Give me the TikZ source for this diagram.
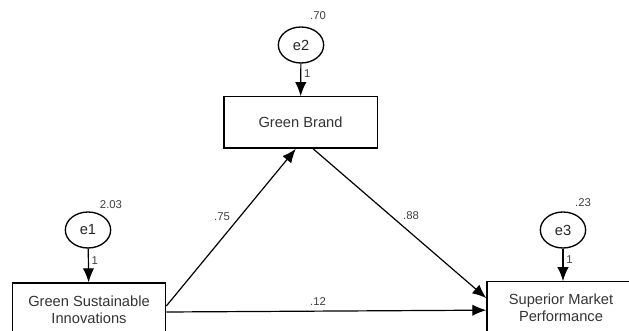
\documentclass[tikz,border=0pt]{standalone}
\usepackage{fontspec}
\setmainfont{Liberation Sans}
\usetikzlibrary{arrows.meta,shapes.geometric}

\begin{document}
\begin{tikzpicture}[
    x=0.75pt, y=-0.75pt,
    var/.style={rectangle, draw=black, line width=1pt, minimum width=115pt, minimum height=38.5pt, align=center, text=black!80, font=\fontsize{11}{12.5}\selectfont},
    err/.style={ellipse, draw=black, line width=1pt, minimum width=34pt, minimum height=27pt, inner sep=0pt, text=black!85, font=\fontsize{11}{12}\selectfont},
    est/.style={font=\fontsize{8.5}{9}\selectfont, text=black!75, inner sep=1pt},
    regpath/.style={-{Latex[length=10.5pt,width=8.5pt]}, line width=0.9pt}
]

% Frame
\useasboundingbox (0,0) rectangle (629,331);
\clip (0,0) rectangle (629,331);

% Observed variables
\node[var] (gb) at (300.5,122.5) {Green Brand};
\node[var, minimum height=40.5pt] (gsi) at (89,310) {Green Sustainable\\Innovations};
\node[var, minimum width=111pt] (smp) at (561,307.5) {Superior Market\\Performance};

% Error terms
\node[err] (e2) at (301,45) {e2};
\node[err] (e1) at (88,230) {e1};
\node[err] (e3) at (563,230) {e3};

% Variances
\node[est] (v2) at (318,16) {.70};
\node[est] (v1) at (111,205) {2.03};
\node[est] (v3) at (583,203) {.23};

% Error paths
\draw[regpath] (e2) -- (gb) node[est, pos=0.3, right=1pt] {1};
\draw[regpath] (e1) -- (gsi) node[est, pos=0.35, right=1pt] {1};
\draw[regpath] (e3) -- (smp.north -| e3) node[est, pos=0.35, right=1pt] {1};

% Structural paths
\draw[regpath] ([yshift=3pt]gsi.east) -- ([xshift=-3.5pt]gb.south);
\draw[regpath] ([xshift=9.5pt]gb.south) -- ([yshift=7pt]smp.west);
\draw[regpath] ([yshift=-1.5pt]gsi.east) -- ([yshift=-2pt]smp.west);

% Coefficients
\node[est] (c1) at (222,217) {.75};
\node[est] (c2) at (411,216) {.88};
\node[est] (c3) at (318,302) {.12};

\end{tikzpicture}
\end{document}
